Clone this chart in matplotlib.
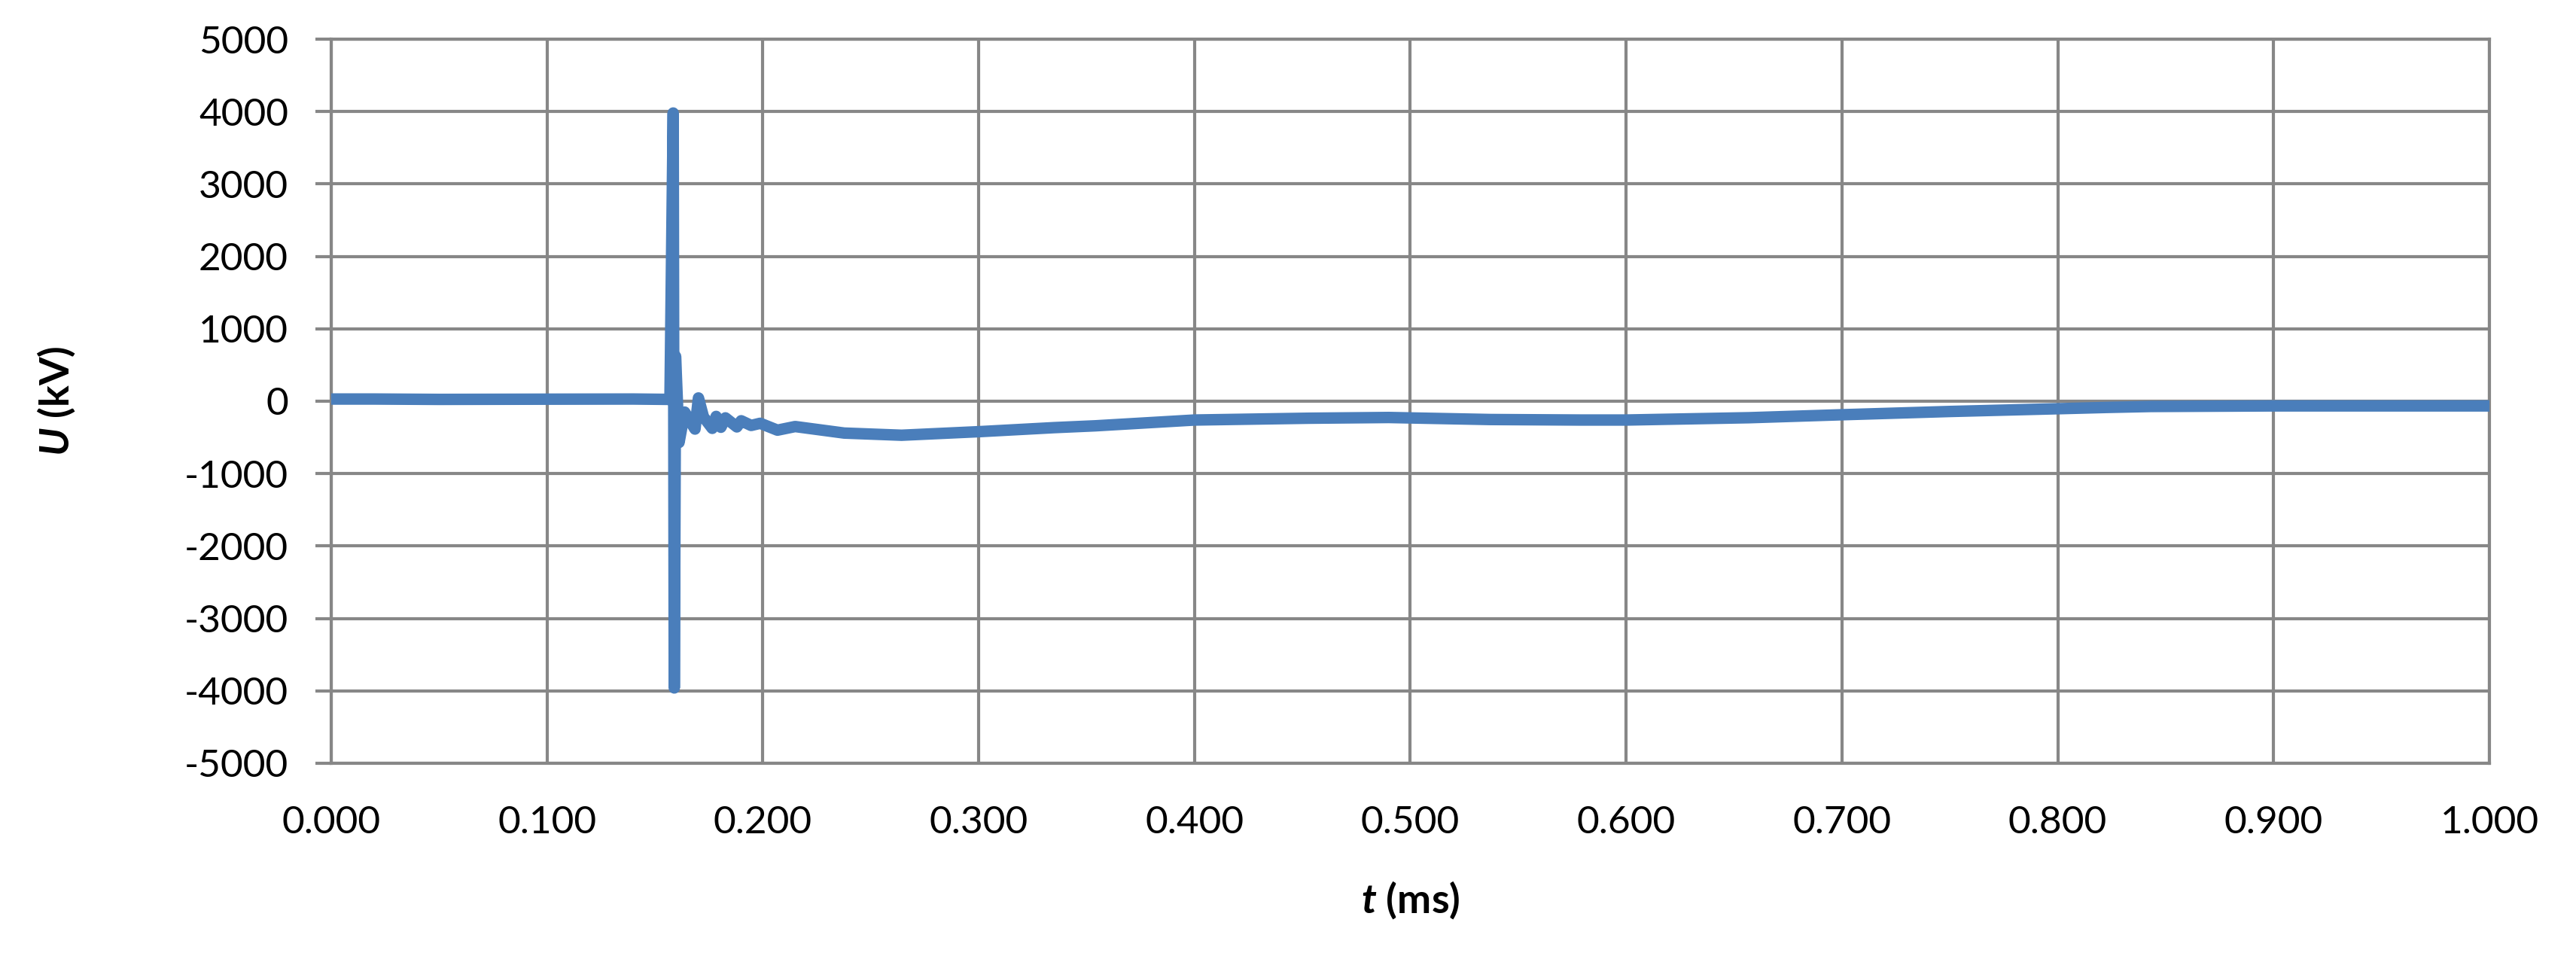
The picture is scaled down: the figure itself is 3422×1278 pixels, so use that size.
import matplotlib
matplotlib.use('Agg')
import matplotlib.pyplot as plt

# voltage trace (t in ms, U in kV)
t_ms = [0.000, 0.020, 0.050, 0.100, 0.140, 0.157, 0.1585, 0.1590, 0.1596, 0.1612,
        0.1638, 0.1686, 0.1702, 0.1725, 0.1766, 0.1784, 0.1806, 0.1827, 0.1880,
        0.1900, 0.1946, 0.1988, 0.2068, 0.2150, 0.2377, 0.2643, 0.3007, 0.3350,
        0.3540, 0.4000, 0.4530, 0.4900, 0.5370, 0.5790, 0.6000, 0.6570, 0.7000,
        0.7500, 0.8000, 0.8230, 0.8430, 0.9000, 1.0000]
u_kv = [30, 30, 25, 28, 30, 25, 3980, -3960, 620, -570,
        -150, -385, 45, -215, -375, -210, -360, -230, -355,
        -270, -335, -305, -400, -350, -440, -470, -420, -365,
        -340, -260, -235, -225, -253, -260, -260, -228, -187,
        -142, -104, -86, -73, -65, -65]

x_ticks = [0.0, 0.1, 0.2, 0.3, 0.4, 0.5, 0.6, 0.7, 0.8, 0.9, 1.0]
y_ticks = list(range(-5000, 5001, 1000))

GRID = '#878787'
LINE = '#4A7EBB'

plt.rcParams['font.family'] = ['Lato', 'DejaVu Sans']
plt.rcParams['mathtext.fontset'] = 'custom'
plt.rcParams['mathtext.it'] = 'Lato:italic:bold'
plt.rcParams['mathtext.rm'] = 'Lato:bold'

fig = plt.figure(figsize=(34.23, 12.78), dpi=100)
ax = fig.add_axes([0.1285, 0.2066, 0.8376, 0.7527])

ax.plot(t_ms, u_kv, color=LINE, lw=11, solid_joinstyle='round', solid_capstyle='round', zorder=3)

ax.set_xlim(0, 1.0)
ax.set_ylim(-5000, 5000)
ax.set_xticks(x_ticks)
ax.set_yticks(y_ticks)
ax.set_xticklabels([f'{v:.3f}' for v in x_ticks])
ax.set_yticklabels([str(v) for v in y_ticks])
ax.grid(True, color=GRID, lw=3, zorder=1)
for s in ax.spines.values():
    s.set_color(GRID)
    s.set_linewidth(3)
ax.tick_params(axis='y', direction='out', length=15, width=3, color=GRID, pad=26, labelsize=37)
ax.tick_params(axis='x', length=0, pad=40, labelsize=37)

ax.set_xlabel(r'$t$ (ms)', fontsize=39, fontweight='bold', labelpad=38)
ax.set_ylabel(r'$U$ (kV)', fontsize=39, fontweight='bold')
ax.yaxis.set_label_coords(-0.118, 0.5)

fig.savefig('out.png', dpi=100)
